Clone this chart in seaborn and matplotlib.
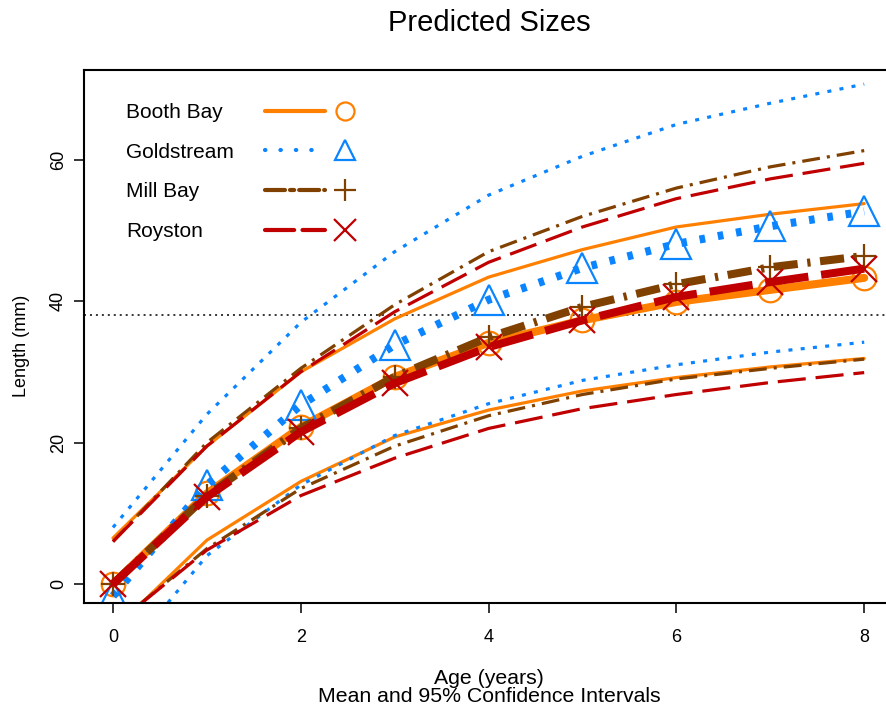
import numpy as np
import pandas as pd
import matplotlib
matplotlib.use("Agg")
import matplotlib.pyplot as plt
import seaborn as sns
from matplotlib.lines import Line2D
from matplotlib.legend_handler import HandlerTuple

# ---------------- data ----------------
ages = [0, 1, 2, 3, 4, 5, 6, 7, 8]
sites = ["Booth Bay", "Goldstream", "Mill Bay", "Royston"]

booth_mean = [0.0, 12.8, 22.2, 29.3, 34.1, 37.3, 39.9, 41.6, 43.3]
booth_upper = [6.5, 19.5, 30.0, 37.5, 43.4, 47.3, 50.5, 52.3, 53.8]
booth_lower = [-6.6, 6.2, 14.5, 20.8, 24.6, 27.3, 29.2, 30.7, 31.9]

gold_mean = [-1.7, 14.0, 25.3, 33.8, 40.2, 44.7, 48.1, 50.6, 52.7]
gold_upper = [8.0, 24.0, 37.0, 47.0, 55.0, 60.5, 65.0, 68.0, 70.7]
gold_lower = [-12.0, 4.0, 14.0, 21.0, 25.5, 28.8, 31.0, 32.8, 34.2]

mill_mean = [0.0, 12.5, 22.0, 29.3, 34.9, 39.2, 42.4, 44.8, 46.4]
mill_upper = [6.0, 20.0, 30.5, 39.5, 47.0, 52.0, 56.0, 59.0, 61.3]
mill_lower = [-6.0, 5.0, 13.5, 19.5, 23.8, 26.8, 29.0, 30.5, 31.8]

roy_mean = [0.0, 12.3, 21.5, 28.4, 33.5, 37.3, 40.6, 42.7, 44.6]
roy_upper = [6.0, 19.5, 30.0, 38.5, 45.5, 50.5, 54.5, 57.3, 59.5]
roy_lower = [-6.0, 4.8, 12.5, 17.8, 22.0, 24.8, 26.8, 28.5, 29.9]

ref_level = 38

x_ticks = [0, 2, 4, 6, 8]
y_ticks = [0, 20, 40, 60]

series = {
    "Booth Bay": (booth_mean, booth_upper, booth_lower),
    "Goldstream": (gold_mean, gold_upper, gold_lower),
    "Mill Bay": (mill_mean, mill_upper, mill_lower),
    "Royston": (roy_mean, roy_upper, roy_lower),
}

# ---------------- styles ----------------
THIN = 2.3
THICK = 5.8
styles = {
    "Booth Bay": dict(color="#FF8000", marker="o", ms=17, lms=13,
                      thin="-", thick="-", leg="-"),
    "Goldstream": dict(color="#0A84FF", marker="^", ms=21, lms=15,
                       thin=(0, (1.25, 2.6)), thick=(0, (0.7, 1.6)),
                       leg=(0, (0.1, 3.6))),
    "Mill Bay": dict(color="#804000", marker="+", ms=17, lms=16,
                     thin=(0, (5.6, 2.2, 0.95, 2.2)),
                     thick=(0, (3.0, 1.2, 0.4, 1.2)),
                     leg=(0, (4.8, 1.2, 1.0, 1.2))),
    "Royston": dict(color="#C00000", marker="x", ms=19, lms=16,
                    thin=(0, (8.8, 3.1)), thick=(0, (5.4, 1.6)),
                    leg=(0, (7.0, 2.0))),
}

sns.set_style("ticks")
plt.rcParams["font.family"] = ["Liberation Sans", "DejaVu Sans"]
plt.rcParams["text.color"] = "black"
plt.rcParams["axes.labelcolor"] = "black"

W, H = 887, 709
fig = plt.figure(figsize=(W / 100, H / 100), dpi=100)
ax_left, ax_right, ax_top, ax_bottom = 83.5, 887, 70, 603
ax = fig.add_axes([ax_left / W, (H - ax_bottom) / H,
                   (ax_right - ax_left) / W, (ax_bottom - ax_top) / H])


def fx(px):
    return (px - ax_left) / (ax_right - ax_left)


def fy(py):
    return (ax_bottom - py) / (ax_bottom - ax_top)


for site in sites:
    mean, upper, lower = series[site]
    st = styles[site]
    c = st["color"]
    sns.lineplot(x=ages, y=upper, ax=ax, color=c, lw=THIN,
                 linestyle=st["thin"], errorbar=None, sort=False)
    sns.lineplot(x=ages, y=lower, ax=ax, color=c, lw=THIN,
                 linestyle=st["thin"], errorbar=None, sort=False)
    sns.lineplot(x=ages, y=mean, ax=ax, color=c, lw=THICK,
                 linestyle=st["thick"], marker=st["marker"], ms=st["ms"],
                 mfc="none", mec=c, mew=1.6, errorbar=None, sort=False,
                 solid_capstyle="round")

ax.axhline(ref_level, color="black", lw=1.1, linestyle=(0, (1.3, 2.6)),
           zorder=1)

# axes limits / ticks
ax.set_xlim(-0.314, 8.243)
ax.set_ylim(-2.69, 72.7)
ax.set_xticks(x_ticks)
ax.set_yticks(y_ticks)
ax.tick_params(axis="both", direction="out", length=7, width=1.1,
               labelsize=13, color="black", labelcolor="black")
ax.tick_params(axis="x", pad=12)
ax.tick_params(axis="y", pad=5)
for lab in ax.get_yticklabels():
    lab.set_rotation(90)
    lab.set_va("center")
    lab.set_ha("right")

for side in ["top", "left", "bottom"]:
    ax.spines[side].set_linewidth(1.5)
    ax.spines[side].set_color("black")
ax.spines["right"].set_visible(False)

ax.set_ylabel("Length (mm)", fontsize=13)
ax.yaxis.set_label_coords(fx(30), fy(346))
ax.set_xlabel("Age (years)\nMean and 95% Confidence Intervals",
              fontsize=15.3, linespacing=0.95, va="top")
ax.xaxis.set_label_coords(fx(489), fy(669))

fig.suptitle("Predicted Sizes", fontsize=21, x=489 / W, y=1 - 9 / H,
             va="top")

# legend: labels (left aligned) and samples as two aligned legends
common = dict(frameon=False, loc="upper left", borderaxespad=0,
              borderpad=0, labelspacing=0.99, fontsize=15, numpoints=1)

blank = [Line2D([], [], alpha=0) for _ in sites]
leg_txt = ax.legend(handles=blank, labels=sites, handlelength=0,
                    handletextpad=0, bbox_to_anchor=(fx(126), fy(103)),
                    **common)
ax.add_artist(leg_txt)

handles = []
for site in sites:
    st = styles[site]
    c = st["color"]
    ln = Line2D([], [], color=c, lw=3, linestyle=st["leg"],
                dash_capstyle="round", solid_capstyle="round")
    mk = Line2D([], [], color=c, linestyle="none", marker=st["marker"],
                ms=st["lms"], mfc="none", mec=c, mew=1.6)
    handles.append((ln, mk))

fs = common["fontsize"]
line_w = 60 * 0.72
mark_off = 80 * 0.72
pad_pt = mark_off - 1.5 * line_w
leg_h = ax.legend(handles=handles, labels=[""] * len(sites),
                  handler_map={tuple: HandlerTuple(ndivide=None,
                                                   pad=pad_pt / fs)},
                  handlelength=(2 * line_w + pad_pt) / fs, handletextpad=0,
                  bbox_to_anchor=(fx(265), fy(103)), **common)

fig.savefig("out.png", dpi=100)
